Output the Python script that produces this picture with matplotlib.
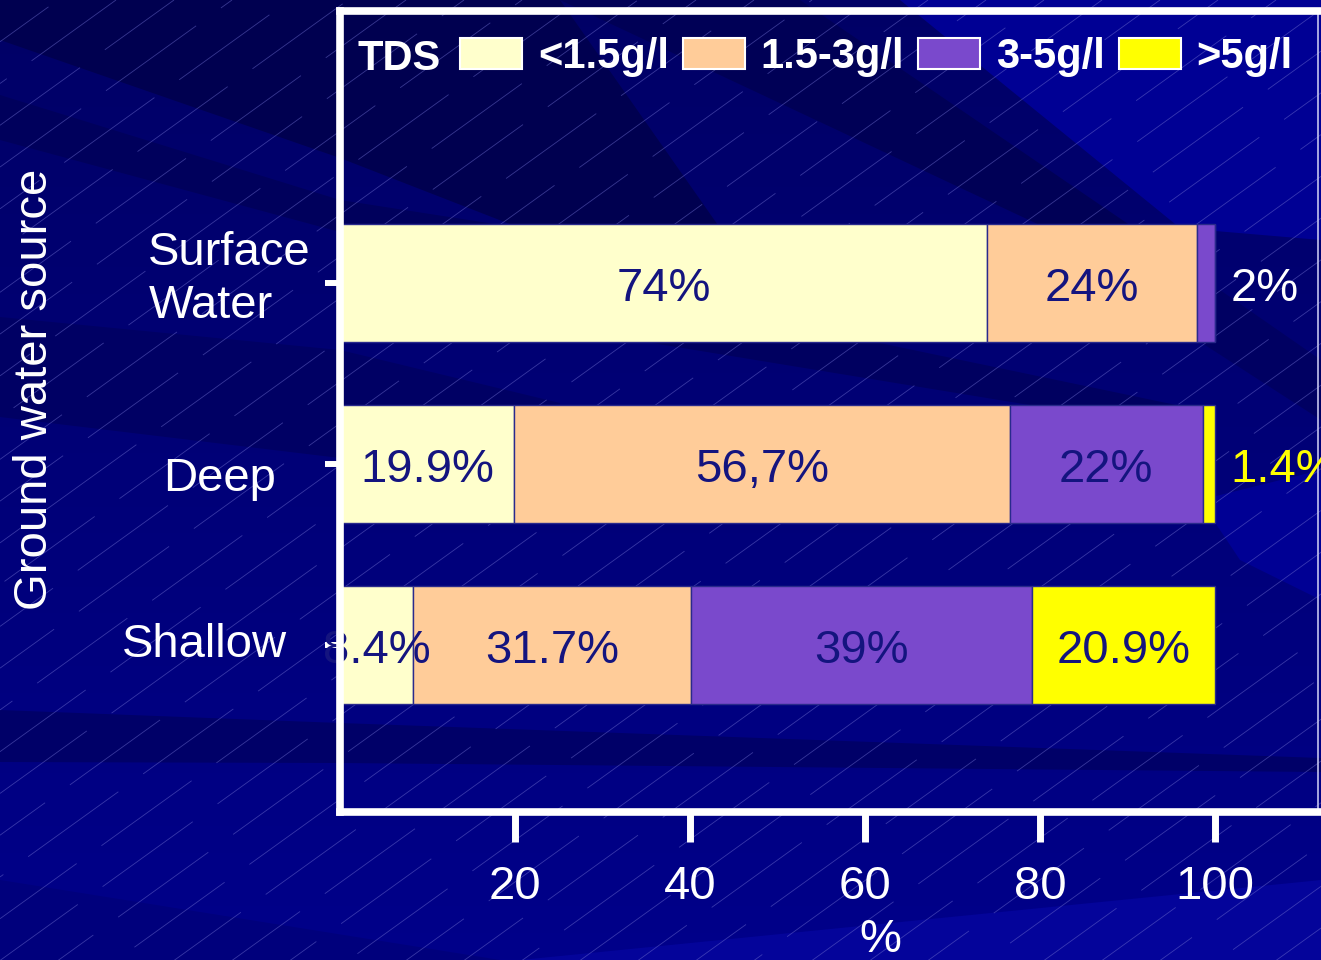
import numpy as np
import matplotlib
matplotlib.use("Agg")
import matplotlib.pyplot as plt
from matplotlib.patches import Patch, Polygon
from matplotlib.collections import LineCollection
from matplotlib.transforms import blended_transform_factory

plt.rcParams["font.family"] = ["Liberation Sans", "DejaVu Sans"]
plt.rcParams["lines.scale_dashes"] = False

# ---------------------------------------------------------------- data
sources = ["Shallow", "Deep", "Surface\nWater"]          # bottom to top
tds_classes = ["<1.5g/l", "1.5-3g/l", "3-5g/l", ">5g/l"]
pct_below_1_5 = [8.4, 19.9, 74.0]
pct_1_5_to_3 = [31.7, 56.7, 24.0]
pct_3_to_5 = [39.0, 22.0, 2.0]
pct_above_5 = [20.9, 1.4, 0.0]
x_ticks = [20, 40, 60, 80, 100]

# labels written with a decimal comma
comma_labels = {("1.5-3g/l", "Deep")}

# ---------------------------------------------------------------- style
class_colors = ["#FFFFCC", "#FFCC99", "#7A49CC", "#FFFF00"]
outside_label_colors = ["white", "white", "white", "#FFFF00"]
inside_text = "#14147F"
bar_edge = "#2A2A8C"
bg_base = "#000088"

W, H = 1321, 960
fig = plt.figure(figsize=(W / 100, H / 100), dpi=100, facecolor=bg_base)

# ---------------------------------------------------------------- backdrop
bg = fig.add_axes([0, 0, 1, 1], zorder=-10)
bg.set_xlim(0, W)
bg.set_ylim(H, 0)
bg.axis("off")

# soft vertical gradient: deeper navy at the top
blue = np.linspace(0x66, 0x8A, H)[:, None] * np.ones((1, 8))
grad = np.zeros((H, 8, 3))
grad[..., 2] = np.clip(blue, 0, 255) / 255.0
bg.imshow(grad, extent=(0, W, H, 0), aspect="auto", interpolation="bilinear",
          zorder=0)

shades = [
    ("#000050", [(0, 0), (560, 0), (720, 228), (520, 228), (340, 158), (0, 40)]),
    ("#000056", [(560, 0), (800, 0), (1134, 228), (1046, 228)]),
    ("#000094", [(900, 0), (1321, 0), (1321, 240), (1180, 228)]),
    ("#00005C", [(0, 95), (340, 200), (520, 228), (520, 250), (340, 232), (0, 140)]),
    ("#000064", [(0, 317), (340, 350), (560, 403), (560, 470), (340, 458), (0, 417)]),
    ("#000060", [(500, 318), (760, 318), (1200, 410), (1060, 410)]),
    ("#000062", [(1120, 290), (1220, 290), (1321, 360), (1321, 420)]),
    ("#000094", [(1200, 500), (1321, 470), (1321, 600), (1240, 560)]),
    ("#000068", [(0, 710), (340, 723), (1321, 758), (1321, 772), (340, 763), (0, 762)]),
    ("#00007C", [(0, 880), (500, 960), (0, 960)]),
    ("#04049A", [(520, 960), (1321, 880), (1321, 960)]),
]
for color, pts in shades:
    bg.add_patch(Polygon(pts, closed=True, facecolor=color, edgecolor="none",
                         zorder=1))

# fine diagonal texture
slope = 0.72
segs, styles = [], []
for k, c in enumerate(np.arange(0, H + slope * W + 60, 58 * slope)):
    segs.append([(0, c), (c / slope, 0)])
    styles.append(((k * 37) % 140, (80, 22)))
bg.add_collection(LineCollection(segs, colors="#7070D0", alpha=0.5,
                                 linewidths=0.6, linestyles=styles, zorder=2))

# ---------------------------------------------------------------- chart
ax = fig.add_axes([340 / W, (H - 812) / H, 978 / W, 801 / H])
ax.patch.set_alpha(0)

rows = np.arange(len(sources))
series = [pct_below_1_5, pct_1_5_to_3, pct_3_to_5, pct_above_5]
left = np.zeros(len(sources))
for name, vals, color, out_col in zip(tds_classes, series, class_colors,
                                      outside_label_colors):
    vals = np.asarray(vals, dtype=float)
    ax.barh(rows, vals, left=left, height=0.657, color=color,
            edgecolor=bar_edge, linewidth=1.0, zorder=2)
    for r, v, l0 in zip(rows, vals, left):
        if v <= 0:
            continue
        text = f"{v:g}%"
        if (name, sources[r]) in comma_labels:
            text = text.replace(".", ",")
        if v >= 5:
            ax.annotate(text, (l0 + v / 2, r), xytext=(0, -4),
                        textcoords="offset points", ha="center", va="center",
                        fontsize=34, color=inside_text, zorder=4,
                        annotation_clip=False)
        else:
            ax.annotate(text, (l0 + v, r), xytext=(11.5, -4),
                        textcoords="offset points", ha="left", va="center",
                        fontsize=34, color=out_col, zorder=4,
                        annotation_clip=False)
    left += vals

ax.set_xlim(0, 111.8)
ax.set_ylim(-0.923, 3.503)
ax.set_xticks(x_ticks)
ax.set_yticks(rows)
ax.tick_params(axis="x", colors="white", length=21.6, width=5, pad=16.5,
               labelsize=34, direction="out")
ax.tick_params(axis="y", colors="white", length=11, width=4.3,
               labelleft=False, direction="out")

for side in ("left", "top", "bottom"):
    ax.spines[side].set_color("white")
    ax.spines[side].set_linewidth(5.5)
    ax.spines[side].set_zorder(6)
ax.spines["right"].set_color("#C4C4EE")
ax.spines["right"].set_linewidth(1.2)

# category names beside the y ticks
cat_offsets = {"Surface\nWater": (-138, 2.5), "Deep": (-127, -10.5),
               "Shallow": (-157, 0)}
ytrans = blended_transform_factory(ax.transAxes, ax.transData)
for r, name in zip(rows, sources):
    dx, dy = cat_offsets[name]
    ax.annotate(name, (0, r), xycoords=ytrans, xytext=(dx, dy),
                textcoords="offset points", ha="left", va="center",
                fontsize=34, color="white", linespacing=1.25,
                multialignment="left", annotation_clip=False)

# legend row
handles = [Patch(facecolor=c, edgecolor="white", linewidth=1.5)
           for c in class_colors]
leg = ax.legend(handles, tds_classes, ncol=4, loc="center left",
                bbox_to_anchor=((460 - 340) / 978, 1 - (57 - 11) / 801),
                frameon=False, prop={"size": 30, "weight": "bold"},
                labelcolor="white", handlelength=1.49, handleheight=0.77,
                handletextpad=0.38, columnspacing=0.33, borderpad=0,
                borderaxespad=0)
fig.text(358 / W, 1 - 70 / H, "TDS", ha="left", va="baseline",
         fontsize=30, fontweight="bold", color="white")

# axis titles
fig.text(35 / W, 1 - 389 / H, "Ground water source", rotation=90,
         ha="center", va="center", fontsize=34, color="white")
fig.text(880 / W, 1 - 918 / H, "%", ha="center", va="top",
         fontsize=34, color="white")

fig.savefig("out.png", dpi=100, facecolor=fig.get_facecolor())
